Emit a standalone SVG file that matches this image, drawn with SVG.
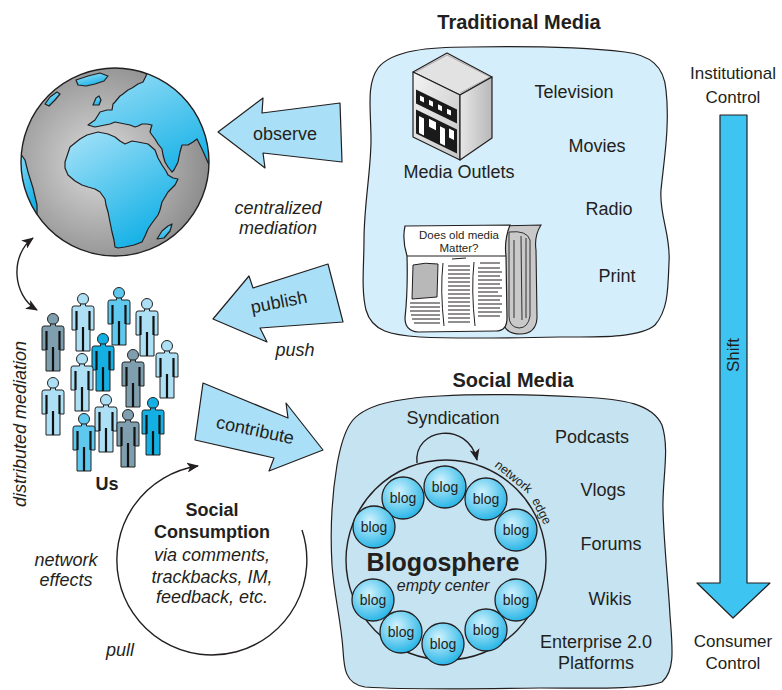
<svg xmlns="http://www.w3.org/2000/svg" xmlns:xlink="http://www.w3.org/1999/xlink" width="782" height="690" viewBox="0 0 782 690">
<style>
text{font-family:"Liberation Sans",Arial,sans-serif;fill:#231f20}
.b{font-weight:bold}
.i{font-style:italic}
.s18{font-size:18px}
.m{text-anchor:middle}
.ol{stroke:#231f20;stroke-width:1.2;stroke-linejoin:round}
.barrow{fill:#aae0f7;stroke:#231f20;stroke-width:1.2;stroke-linejoin:round}
.blogc{fill:url(#blogG);stroke:#231f20;stroke-width:1.3}
.blogt{font-size:14px;text-anchor:middle}
.thin{fill:none;stroke:#231f20;stroke-width:1.4}
</style>
<defs>
<radialGradient id="globeG" cx="0.42" cy="0.5" r="0.6">
<stop offset="0" stop-color="#dcdcdc"/><stop offset="1" stop-color="#8a8a8a"/>
</radialGradient>
<linearGradient id="landG" x1="0" y1="0" x2="0.6" y2="1">
<stop offset="0" stop-color="#a9e3f9"/><stop offset="1" stop-color="#14b1e6"/>
</linearGradient>
<radialGradient id="blogG" cx="0.4" cy="0.35" r="0.7">
<stop offset="0" stop-color="#d2f3fe"/><stop offset="1" stop-color="#1eb2e5"/>
</radialGradient>
<linearGradient id="frontG" x1="0" y1="0" x2="1" y2="1">
<stop offset="0" stop-color="#f4f4f4"/><stop offset="1" stop-color="#c4c4c4"/>
</linearGradient>
<linearGradient id="sideG" x1="0" y1="0" x2="1" y2="0">
<stop offset="0" stop-color="#e6e6e6"/><stop offset="1" stop-color="#b8b8b8"/>
</linearGradient>
<clipPath id="globeClip"><circle cx="115" cy="162" r="94"/></clipPath>
<marker id="ah" viewBox="0 0 12 10" refX="11" refY="5" markerWidth="12" markerHeight="10" markerUnits="userSpaceOnUse" orient="auto-start-reverse">
<path d="M0,0 L12,5 L0,10 L3,5 Z" fill="#231f20"/>
</marker>
<g id="person">
<circle cx="0" cy="6" r="5.5" stroke="#222" stroke-width="1"/>
<path d="M-2.5,11 L2.5,11 L2.5,13 L9,13 Q11,13 11,15.5 L11,37 L7,37 L7,58 L-7,58 L-7,37 L-11,37 L-11,15.5 Q-11,13 -9,13 L-2.5,13 Z" stroke="#222" stroke-width="1"/>
<path d="M-6.5,18 L-6.5,37 M6.5,18 L6.5,37 M0,34 L0,58" stroke="#111" stroke-width="2.2" fill="none"/>
</g>
</defs>

<rect width="782" height="690" fill="#ffffff"/>

<!-- Traditional media region -->
<g id="traditional-media">
<path class="ol" fill="#d4eefb" d="M378,68 C392,50 430,47 470,47 C530,46 590,48 625,52 C650,55 664,66 666,90 C670,125 664,160 661,190 C659,215 671,235 669,262 C668,290 668,310 655,325 C640,338 600,337 560,337 C510,338 460,339 420,337 C392,335 372,332 366,310 C361,290 364,265 364,240 C364,205 371,170 371,140 C371,110 366,85 378,68 Z"/>
<text class="b m" x="519" y="29" font-size="20">Traditional Media</text>
<text class="s18 m" x="574" y="98">Television</text>
<text class="s18 m" x="597" y="152">Movies</text>
<text class="s18 m" x="609" y="215">Radio</text>
<text class="s18 m" x="617" y="282">Print</text>
<text class="s18 m" x="459" y="178">Media Outlets</text>
</g>

<!-- Building -->
<g id="media-outlets-building">
<path d="M413,72 L447,53 L492,77 L460,95 Z" fill="#e2e2e2" stroke="#231f20" stroke-width="1.2" stroke-linejoin="round"/>
<path d="M415,72.5 L447,55 L490,77 L460,93" fill="none" stroke="#9a9a9a" stroke-width="0.8"/>
<path d="M413,72 L460,95 L460,160 L413,137 Z" fill="url(#frontG)" stroke="#231f20" stroke-width="1.2" stroke-linejoin="round"/>
<path d="M460,95 L492,77 L492,138 L460,160 Z" fill="url(#sideG)" stroke="#231f20" stroke-width="1.2" stroke-linejoin="round"/>
<g transform="translate(413,72) skewY(26.07)">
<rect x="3" y="16" width="41" height="14" fill="#1a1a1a"/>
<rect x="7" y="20" width="4" height="5" fill="#fff"/>
<rect x="16" y="20" width="4" height="5" fill="#fff"/>
<rect x="25" y="20" width="4" height="5" fill="#fff"/>
<rect x="34" y="20" width="4" height="5" fill="#fff"/>
<path d="M3,36 L44,36 L44,60 L3,60 Z" fill="#1a1a1a"/>
<rect x="6" y="41" width="5" height="17" fill="#fff"/>
<rect x="16" y="39" width="7" height="8" fill="#fff"/>
<rect x="27" y="41" width="5" height="17" fill="#fff"/>
<rect x="36" y="39" width="5" height="9" fill="#fff"/>
</g>
</g>

<!-- Newspaper -->
<g id="newspaper">
<path d="M500,226 L541,225 Q534,236 536,250 L537,318 Q536,334 520,334 Q504,334 503,320 L503,250 Z" fill="#c9c9c9" stroke="#231f20" stroke-width="1.1"/>
<path d="M509,232 Q527,230 530,240 L530,316 Q528,328 519,328 Q509,327 509,316 Z M514,240 L514,318 M521,236 L522,320 M526,238 L526,318" fill="none" stroke="#231f20" stroke-width="0.9"/>
<path d="M405,226 L510,225 Q504,240 506,256 L507,318 Q507,331 496,331 L418,332 Q405,331 405,318 Q408,290 407,256 Q402,240 405,226 Z" fill="#ffffff" stroke="#231f20" stroke-width="1.2"/>
<line x1="407" y1="256" x2="506" y2="256" stroke="#231f20" stroke-width="1"/>
<text x="459" y="239" font-size="11.5" text-anchor="middle">Does old media</text>
<text x="459" y="252" font-size="11.5" text-anchor="middle">Matter?</text>
<path d="M413,265 Q425,262 438,264 L437,297 L412,299 Z" fill="#b8b8b8" stroke="#231f20" stroke-width="1"/>
<path d="M410,303 L440,303 M410,307 L440,307 M410,311 L440,311 M411,315 L440,315 M412,319 L440,319 M414,323 L440,323" stroke="#231f20" stroke-width="1.1"/>
<path d="M443,263 Q440,290 444,326 M474,262 Q471,290 475,326" fill="none" stroke="#231f20" stroke-width="1"/>
<path d="M452,259 L466,258 M448,266 L470,266 M448,270 L470,270 M448,274 L470,274 M448,278 L470,278 M448,282 L470,282 M448,286 L470,286 M448,290 L470,290 M448,294 L470,294 M448,298 L470,298 M448,302 L470,302 M448,306 L470,306 M448,310 L470,310 M448,314 L470,314 M448,318 L470,318 M448,322 L470,322" stroke="#231f20" stroke-width="1.1"/>
<path d="M480,263 L500,263 M478,268 L500,268 M478,272 L502,272 M478,276 L500,276 M478,280 L502,280 M478,284 L500,284 M478,288 L502,288 M478,292 L498,292 M478,296 L502,296 M478,300 L500,300 M478,304 L502,304 M478,308 L500,308 M478,312 L502,312 M478,316 L500,316" stroke="#231f20" stroke-width="1.1"/>
</g>

<!-- Social media region -->
<g id="social-media">
<path class="ol" fill="#c6e3f1" d="M350,424 C362,404 400,398 440,396 C490,393 540,395 580,397 C625,399 652,404 662,425 C670,450 662,480 663,510 C664,545 668,580 670,615 C672,645 676,670 662,682 C640,690 590,688 540,688 C480,689 410,690 365,687 C345,684 344,668 343,650 C341,620 334,595 332,565 C330,530 332,495 337,465 C340,448 343,435 350,424 Z"/>
<text class="b m" x="513" y="387" font-size="20">Social Media</text>
<text class="s18 m" x="592" y="443">Podcasts</text>
<text class="s18 m" x="603" y="496">Vlogs</text>
<text class="s18 m" x="611" y="550">Forums</text>
<text class="s18 m" x="610" y="605">Wikis</text>
<text class="s18 m" x="596" y="648">Enterprise 2.0</text>
<text class="s18 m" x="596" y="669">Platforms</text>
</g>

<!-- Blogosphere -->
<g id="blogosphere">
<circle cx="446" cy="560" r="100" fill="none" stroke="#231f20" stroke-width="1.4"/>
<text font-size="12.5" text-anchor="middle" transform="translate(511,480) rotate(39)">network</text>
<text font-size="12.5" text-anchor="middle" transform="translate(538,513) rotate(63)">edge</text>
<text class="s18 m" x="453" y="424">Syndication</text>
<text class="b m" x="443" y="571" font-size="25">Blogosphere</text>
<text class="i m" x="443" y="591" font-size="16">empty center</text>
</g>
<g id="blogs">
<g><circle class="blogc" cx="445" cy="487" r="21"/><text class="blogt" x="445" y="492">blog</text></g>
<g><circle class="blogc" cx="403" cy="498" r="21"/><text class="blogt" x="403" y="503">blog</text></g>
<g><circle class="blogc" cx="486" cy="499" r="21"/><text class="blogt" x="486" y="504">blog</text></g>
<g><circle class="blogc" cx="374" cy="527" r="21"/><text class="blogt" x="374" y="532">blog</text></g>
<g><circle class="blogc" cx="516" cy="530" r="21"/><text class="blogt" x="516" y="535">blog</text></g>
<g><circle class="blogc" cx="373" cy="600" r="21"/><text class="blogt" x="373" y="605">blog</text></g>
<g><circle class="blogc" cx="516" cy="600" r="21"/><text class="blogt" x="516" y="605">blog</text></g>
<g><circle class="blogc" cx="401" cy="632" r="21"/><text class="blogt" x="401" y="637">blog</text></g>
<g><circle class="blogc" cx="486" cy="630" r="21"/><text class="blogt" x="486" y="635">blog</text></g>
<g><circle class="blogc" cx="443" cy="644" r="21"/><text class="blogt" x="443" y="649">blog</text></g>
</g>

<!-- Globe -->
<g id="globe">
<circle cx="115" cy="162" r="94" fill="url(#globeG)"/>
<g clip-path="url(#globeClip)" fill="url(#landG)" stroke="#231f20" stroke-width="1.2" stroke-linejoin="round">
<path d="M65,162 L70,147 L80,139 L87,135 L98,132 L108,134 L115,137 L120,141 L125,144 L132,141 L138,142 L148,144 L155,150 L158,158 L162,165 L166,171 L168,175 L173,178 L178,179 L175,185 L168,192 L162,202 L160,210 L158,215 L152,223 L148,229 L145,236 L142,242 L134,245 L125,247 L118,248 L115,247 L114,240 L112,232 L110,222 L108,212 L106,205 L105,199 L100,192 L95,189 L88,187 L82,185 L75,181 L68,175 L65,168 Z"/>
<path d="M88,125 L95,120 L100,112 L107,110 L112,110 L113,104 L115,102 L120,96 L123,94 L128,90 L132,88 L138,84 L143,82 L146,76 L150,60 L240,60 L240,178 L210,167 L206,158 L202,149 L199,143 L197,139 L193,142 L188,145 L182,145 L180,152 L178,162 L174,170 L172,172 L168,167 L165,162 L163,155 L162,149 L158,144 L155,139 L152,135 L150,132 L151,128 L152,125 L147,124 L142,124 L138,126 L135,127 L130,125 L125,124 L120,123 L115,122 L110,124 L105,125 L100,126 L95,127 Z"/>
<path d="M76,80 L88,76 L100,73 L108,76 L104,81 L95,84 L86,86 L78,85 Z"/>
<path d="M45,104 L50,97 L57,92 L60,94 L55,100 L49,106 Z"/>
<path d="M8,150 L18,150 L25,160 L28,172 L33,188 L37,205 L37,214 L28,216 L10,200 Z"/>
<path d="M157,239 L162,231 L168,226 L172,224 L170,231 L164,238 Z"/>
<path d="M93,105 L96,98 L99,96 L101,100 L99,105 Z"/>
</g>
<circle cx="115" cy="162" r="94" fill="none" stroke="#231f20" stroke-width="1.4"/>
</g>

<!-- People -->
<g id="us-people">
<use href="#person" xlink:href="#person" x="119" y="287" fill="#5ec8ef"/>
<use href="#person" xlink:href="#person" x="147" y="298" fill="#aee0f5"/>
<use href="#person" xlink:href="#person" x="83" y="293" fill="#aee0f5"/>
<use href="#person" xlink:href="#person" x="53" y="313" fill="#7f9fae"/>
<use href="#person" xlink:href="#person" x="103" y="333" fill="#14b0e3"/>
<use href="#person" xlink:href="#person" x="167" y="340" fill="#aee0f5"/>
<use href="#person" xlink:href="#person" x="133" y="349" fill="#7f9fae"/>
<use href="#person" xlink:href="#person" x="82" y="353" fill="#aee0f5"/>
<use href="#person" xlink:href="#person" x="53" y="377" fill="#aee0f5"/>
<use href="#person" xlink:href="#person" x="106" y="394" fill="#aee0f5"/>
<use href="#person" xlink:href="#person" x="153" y="397" fill="#14b0e3"/>
<use href="#person" xlink:href="#person" x="128" y="409" fill="#7f9fae"/>
<use href="#person" xlink:href="#person" x="84" y="413" fill="#5ec8ef"/>
<text class="b s18 m" x="107" y="490">Us</text>
</g>

<!-- Shift arrow -->
<g id="shift-arrow">
<path d="M720,115 L747,115 L747,583 L770,583 L733,618 L697,583 L720,583 Z" fill="#3ec4f0" stroke="#231f20" stroke-width="1.2" stroke-linejoin="round"/>
<text class="m" font-size="17" transform="translate(739,355) rotate(-90)">Shift</text>
<text class="m" font-size="17" x="733" y="79">Institutional</text>
<text class="m" font-size="17" x="733" y="103">Control</text>
<text class="m" font-size="17" x="733" y="647">Consumer</text>
<text class="m" font-size="17" x="733" y="669">Control</text>
</g>

<!-- Connectors -->
<g id="connectors">
<g id="observe-arrow">
<path class="barrow" d="M218,132 L263,98 L262,113 L340,103 L342,162 L263,153 L265,168 Z"/>
<text class="s18 m" x="285" y="140">observe</text>
</g>
<g id="publish-arrow">
<path class="barrow" d="M213,319 L249,276 L253,288 L328,264 L343,322 L260,328 L267,342 Z"/>
<text class="s18 m" transform="translate(280,308) rotate(-11)">publish</text>
</g>
<g id="contribute-arrow">
<path class="barrow" d="M203,383 L288,418 L286,403 L323,450 L269,471 L274,458 L195,440 Z"/>
<text class="s18 m" transform="translate(254,436) rotate(12)">contribute</text>
</g>
<path class="thin" d="M33,238 C10,255 12,295 37,310" marker-start="url(#ah)" marker-end="url(#ah)"/>
<path class="thin" d="M417,463 C413,428 468,420 477,460" marker-end="url(#ah)"/>
<path class="thin" d="M302,530 A95,95 0 1,1 198,466" marker-end="url(#ah)"/>
</g>

<!-- Free labels -->
<g id="labels">
<text class="i s18 m" x="278" y="214">centralized</text>
<text class="i s18 m" x="278" y="234">mediation</text>
<text class="i s18 m" x="295" y="356">push</text>
<text class="i s18 m" transform="translate(26,424) rotate(-90)">distributed mediation</text>
<text class="i s18 m" x="66" y="566">network</text>
<text class="i s18 m" x="66" y="586">effects</text>
<text class="i s18 m" x="120" y="656">pull</text>
<text class="b s18 m" x="212" y="516">Social</text>
<text class="b s18 m" x="212" y="538">Consumption</text>
<text class="i s18 m" x="212" y="561">via comments,</text>
<text class="i s18 m" x="212" y="583">trackbacks, IM,</text>
<text class="i s18 m" x="212" y="603">feedback, etc.</text>
</g>
</svg>
